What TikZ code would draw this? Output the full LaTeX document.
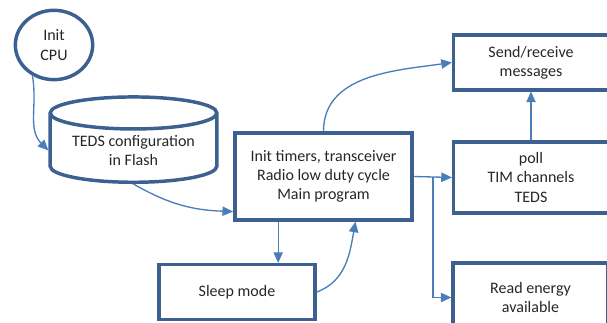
\documentclass[tikz,border=0pt]{standalone}
\usepackage{fontspec}
\setmainfont{Carlito}
\usetikzlibrary{shapes,shapes.geometric,calc,positioning,arrows.meta}

\definecolor{boxblue}{HTML}{3C6190}
\definecolor{lineblue}{HTML}{4A7EBB}
\definecolor{textgray}{HTML}{262626}

\begin{document}
\begin{tikzpicture}
	[x=0.75pt,y=0.75pt,
	every node/.style={draw=boxblue,line width=2.6pt,text=textgray,align=center,
		font=\fontsize{12}{14.5}\selectfont,inner sep=2pt},
	block/.style={rectangle},
	link/.style={draw=lineblue,line width=1pt,-{Triangle[length=8pt,width=7pt]}}]
	\useasboundingbox (0,0) rectangle (607,323);
	\begin{scope}
	\clip (0,0) rectangle (607,323);
	\node[ellipse,minimum width=58pt,minimum height=52pt] (cpu) at (54,278) {Init\\CPU};
	\node[cylinder,shape border rotate=90,aspect=0.25,minimum width=125pt,minimum height=64pt] (teds) at (133.5,172.5) {TEDS configuration\\in Flash};
	\node[block,minimum width=133pt,minimum height=65pt] (main) at (323.5,146.5) {Init timers, transceiver\\Radio low duty cycle\\Main program};
	\node[block,minimum width=117pt,minimum height=41pt] (sleep) at (237,31) {Sleep mode};
	\node[block,minimum width=116pt,minimum height=41pt] (send) at (531,260.5) {Send/receive\\messages};
	\node[block,minimum width=116pt,minimum height=53pt] (poll) at (531,145.5) {poll\\TIM channels\\TEDS};
	\node[block,minimum width=116pt,minimum height=52pt] (read) at (530.5,25.5) {Read energy\\available};
	\end{scope}

	\coordinate (split) at ($(main.east)!0.5!(poll.west)$);
	\path
	\foreach \startNode/\endNode in {main.east/poll.west,poll.north/send.south}
	{
		(\startNode) edge[link] (\endNode)
	};
	\draw[link] (cpu.235) to[out=-80,in=135] (teds.west);
	\draw[link] (teds.south) to[out=-30,in=178] ($(main.south west)+(0,10)$);
	\draw[link] (main.north) to[out=90,in=188] (send.west);
	\draw[link] (split) |- (read.west);
	\draw[link] ([xshift=-34pt]main.south) -- ([xshift=-34pt]main.south |- sleep.north);
	\draw[link] (sleep.east) to[out=20,in=-100] ([xshift=24pt]main.south);
\end{tikzpicture}
\end{document}
